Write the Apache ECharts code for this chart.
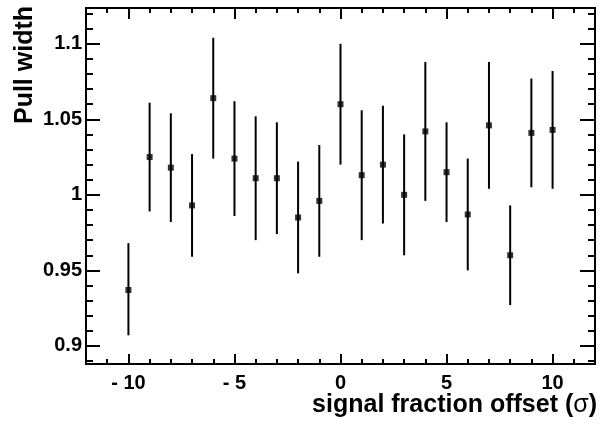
<!DOCTYPE html>
<html>
<head>
<meta charset="utf-8">
<script src="https://cdn.jsdelivr.net/npm/echarts@6/dist/echarts.min.js"></script>
<style>html,body{margin:0;padding:0;background:#fff}#c{width:603px;height:428px}</style>
</head>
<body>
<div id="c"></div>
<script>
var offsets = [-10,-9,-8,-7,-6,-5,-4,-3,-2,-1,0,1,2,3,4,5,6,7,8,9,10];
var pullWidth = [0.937,1.025,1.018,0.993,1.064,1.024,1.011,1.011,0.985,0.996,1.060,1.013,1.020,1.000,1.042,1.015,0.987,1.046,0.960,1.041,1.043];
var errLow  = [0.907,0.989,0.982,0.959,1.024,0.986,0.970,0.974,0.948,0.959,1.020,0.970,0.981,0.960,0.996,0.982,0.950,1.004,0.927,1.005,1.004];
var errHigh = [0.968,1.061,1.054,1.027,1.104,1.062,1.052,1.048,1.022,1.033,1.100,1.056,1.059,1.040,1.088,1.048,1.024,1.088,0.993,1.077,1.082];
var xMajorTicks = [-10,-5,0,5,10];
var xMinorTicks = [-12,-11,-10,-9,-8,-7,-6,-5,-4,-3,-2,-1,0,1,2,3,4,5,6,7,8,9,10,11,12];
var yMajorTicks = [0.9,0.95,1,1.05,1.1];
var yMinorTicks = [0.89,0.90,0.91,0.92,0.93,0.94,0.95,0.96,0.97,0.98,0.99,1.00,1.01,1.02,1.03,1.04,1.05,1.06,1.07,1.08,1.09,1.10,1.11,1.12];
var xMin = -12, xMax = 12, yMin = 0.888, yMax = 1.1237;

var FONT = '"Liberation Sans", Arial, Helvetica, sans-serif';
function axLine(){ return {show:true, onZero:false, lineStyle:{color:'#000', width:2}}; }

function xAx(pos, ticks, len, labels) {
  return {
    type:'value', position:pos, min:xMin, max:xMax,
    axisLine: axLine(),
    axisTick:{show:true, inside:true, length:len, customValues:ticks, lineStyle:{color:'#000', width:2}},
    axisLabel: labels ? {show:true, customValues:ticks, margin:9, color:'#000', fontSize:20, fontWeight:'bold', fontFamily:FONT,
      formatter:function(v){ return v < 0 ? '- ' + Math.abs(v) : String(v); }} : {show:false},
    splitLine:{show:false}, minorTick:{show:false}
  };
}
function yAx(pos, ticks, len, labels) {
  return {
    type:'value', position:pos, min:yMin, max:yMax,
    axisLine: axLine(),
    axisTick:{show:true, inside:true, length:len, customValues:ticks, lineStyle:{color:'#000', width:2}},
    axisLabel: labels ? {show:true, customValues:ticks, margin:4, color:'#000', fontSize:20, fontWeight:'bold', fontFamily:FONT,
      formatter:function(v){ return String(+v.toFixed(3)); }} : {show:false},
    splitLine:{show:false}, minorTick:{show:false}
  };
}

var errData = offsets.map(function(x,i){ return [x, errLow[i], errHigh[i]]; });
var ptData = offsets.map(function(x,i){ return [x, pullWidth[i]]; });

var chart = echarts.init(document.getElementById('c'), null, {renderer:'canvas'});
chart.setOption({
  animation:false,
  backgroundColor:'#fff',
  grid:{left:86, right:8, top:8, bottom:64, containLabel:false},
  xAxis:[xAx('bottom', xMinorTicks, 5, false), xAx('bottom', xMajorTicks, 10, true), xAx('top', xMinorTicks, 5, false), xAx('top', xMajorTicks, 11, false)],
  yAxis:[yAx('left', yMinorTicks, 7, false), yAx('left', yMajorTicks, 14, true), yAx('right', yMinorTicks, 7, false), yAx('right', yMajorTicks, 15, false)],
  series:[
    {
      type:'custom', xAxisIndex:0, yAxisIndex:0, data:errData, z:2,
      renderItem:function(params, api){
        var p1 = api.coord([api.value(0), api.value(1)]);
        var p2 = api.coord([api.value(0), api.value(2)]);
        return {type:'line', shape:{x1:p1[0], y1:p1[1], x2:p2[0], y2:p2[1]}, style:{stroke:'#000', lineWidth:2}};
      }
    },
    {
      type:'scatter', xAxisIndex:0, yAxisIndex:0, data:ptData, symbol:'rect', symbolSize:6, z:3,
      itemStyle:{color:'#000'}
    }
  ],
  graphic:[
    {type:'text', x:25, y:65, rotation:Math.PI/2, style:{text:'Pull width', font:'bold 25px ' + FONT, fill:'#000', align:'center', verticalAlign:'middle'}},
    {type:'text', x:597, y:405, style:{
      text:'{b|signal fraction offset (}{s|σ}{b|)}', align:'right', verticalAlign:'middle',
      rich:{b:{font:'bold 25px ' + FONT, fill:'#000'}, s:{font:'25px ' + FONT, fill:'#000'}}
    }}
  ]
});
</script>
</body>
</html>
